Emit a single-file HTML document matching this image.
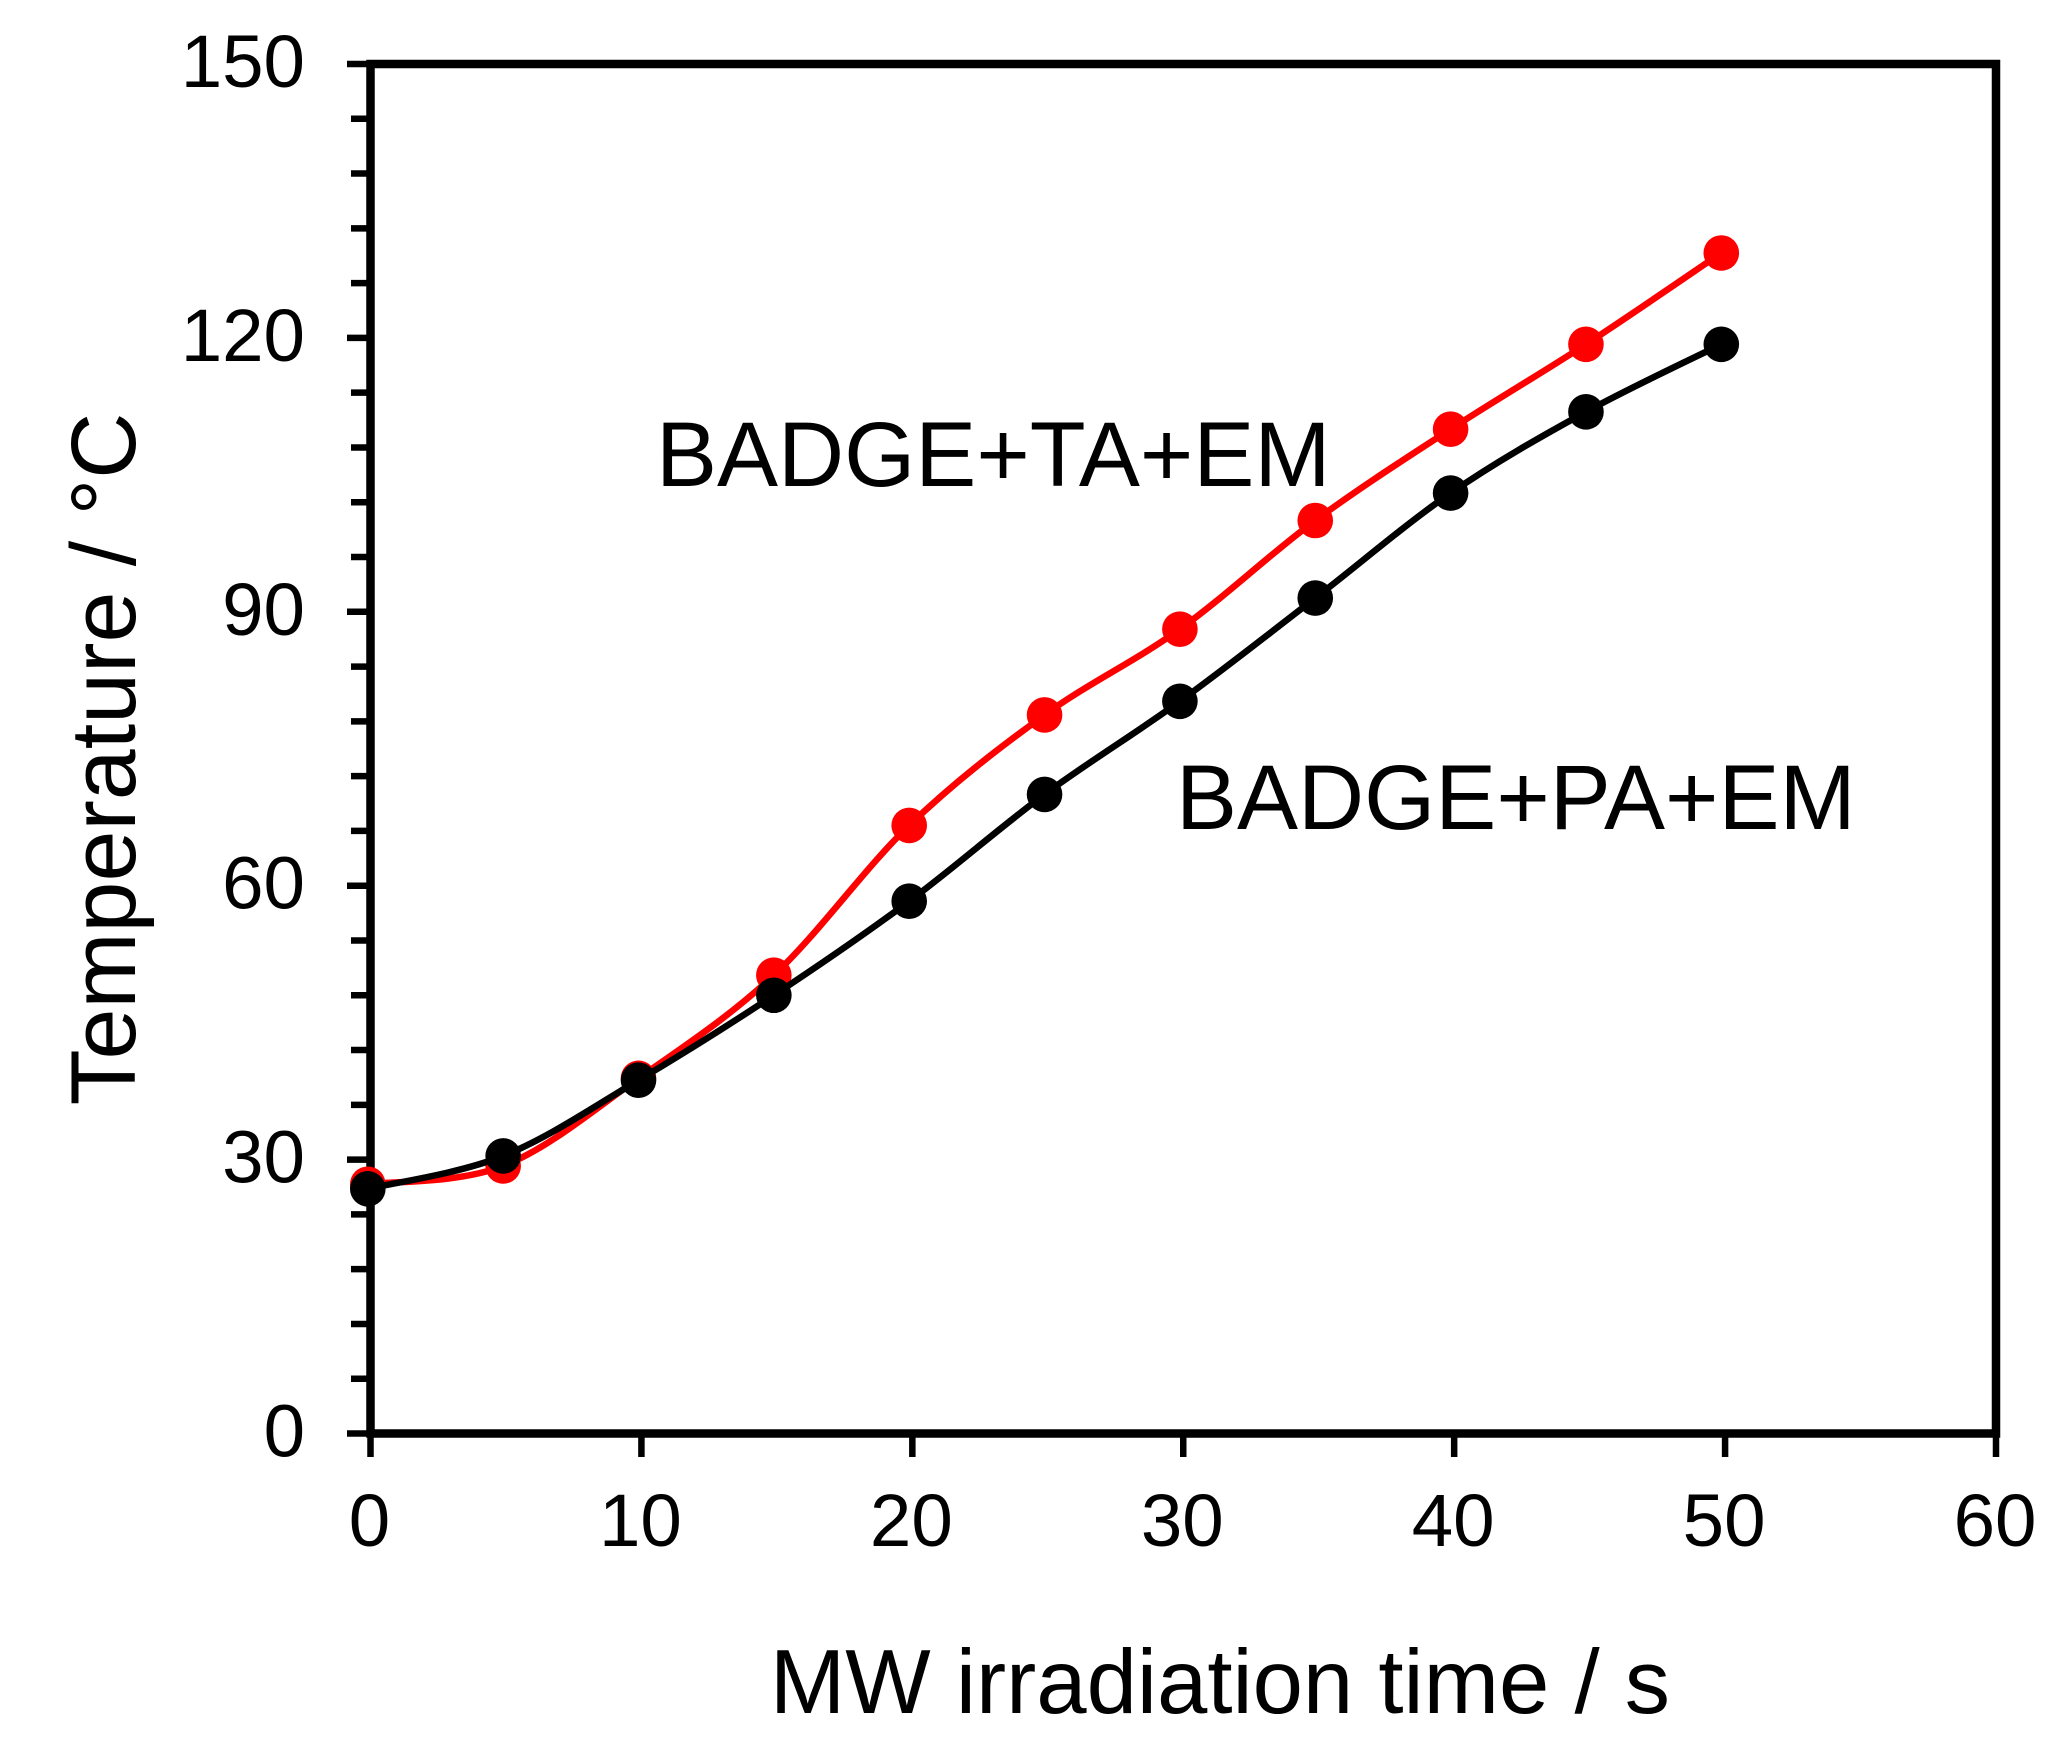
<!DOCTYPE html>
<html>
<head>
<meta charset="utf-8">
<title>Temperature vs MW irradiation time</title>
<style>
html,body{margin:0;padding:0;background:#fff;}
svg{display:block;}
text{font-family:"Liberation Sans",Arial,sans-serif;fill:#000;}
</style>
</head>
<body>
<svg id="chart" xmlns="http://www.w3.org/2000/svg" width="2066" height="1759" viewBox="0 0 2066 1759">
  <rect x="0" y="0" width="2066" height="1759" fill="#fff"/>
  <g id="grid-ticks"></g>
  <rect x="370.5" y="64" width="1625.5" height="1369.5" fill="none" stroke="#000" stroke-width="8.5"/>
  <g id="tick-labels"></g>
  <g id="series"></g>
  <text x="1220" y="1713" font-size="90.5" text-anchor="middle">MW irradiation time / s</text>
  <text transform="translate(135 759) rotate(-90)" font-size="91.5" text-anchor="middle">Temperature / °C</text>
  <text x="656" y="486" font-size="91.5">BADGE+TA+EM</text>
  <text x="1176" y="829" font-size="91.5">BADGE+PA+EM</text>
</svg>
<script>
const timeValues = [0, 5, 10, 15, 20, 25, 30, 35, 40, 45, 50];
const taSeries = [27.3, 29.3, 38.9, 50.2, 66.6, 78.7, 88.1, 100, 110, 119.3, 129.3];
const paSeries = [26.8, 30.4, 38.7, 48, 58.3, 70, 80.2, 91.5, 103, 111.9, 119.3];
const xTickLabels = [0, 10, 20, 30, 40, 50, 60];
const yTickLabels = [0, 30, 60, 90, 120, 150];
const yMinorTicks = [6, 12, 18, 24, 36, 42, 48, 54, 66, 72, 78, 84, 96, 102, 108, 114, 126, 132, 138, 144];

const NS = 'http://www.w3.org/2000/svg';
function xAxis(v) { return 370.5 + v * (1625.5 / 60); }
function xData(v) { return 367.8 + v * 27.07; }
function yAxis(v) { return 1433.5 - v * (1369.5 / 150); }

function make(tag, attrs, parent) {
  const el = document.createElementNS(NS, tag);
  for (const k in attrs) el.setAttribute(k, attrs[k]);
  parent.appendChild(el);
  return el;
}

const tickGroup = document.getElementById('grid-ticks');
const labelGroup = document.getElementById('tick-labels');
const seriesGroup = document.getElementById('series');

xTickLabels.forEach(function (v) {
  const x = xAxis(v);
  const t = make('line', { x1: x, x2: x, y1: 1433, y2: 1457, stroke: '#000', 'stroke-width': 6.5 }, tickGroup);
  
  
  const l = make('text', { x: x - 1, y: 1546, 'font-size': 74.5, 'text-anchor': 'middle' }, labelGroup);
  l.textContent = String(v);
  
  
});

yTickLabels.forEach(function (v) {
  const y = yAxis(v);
  const t = make('line', { x1: 347, x2: 371, y1: y, y2: y, stroke: '#000', 'stroke-width': 6.5 }, tickGroup);
  
  
  const l = make('text', { x: 305, y: y + 23, 'font-size': 74.5, 'text-anchor': 'end' }, labelGroup);
  l.textContent = String(v);
  
  
});

yMinorTicks.forEach(function (v) {
  const y = yAxis(v);
  const t = make('line', { x1: 351, x2: 371, y1: y, y2: y, stroke: '#000', 'stroke-width': 6.5 }, tickGroup);
  
  
});

function smoothPath(xs, ys) {
  const pts = xs.map(function (v, i) { return [xData(v), yAxis(ys[i])]; });
  let d = 'M' + pts[0][0] + ' ' + pts[0][1];
  for (let i = 0; i < pts.length - 1; i++) {
    const p0 = pts[Math.max(i - 1, 0)];
    const p1 = pts[i];
    const p2 = pts[i + 1];
    const p3 = pts[Math.min(i + 2, pts.length - 1)];
    const c1x = p1[0] + (p2[0] - p0[0]) / 6;
    const c1y = p1[1] + (p2[1] - p0[1]) / 6;
    const c2x = p2[0] - (p3[0] - p1[0]) / 6;
    const c2y = p2[1] - (p3[1] - p1[1]) / 6;
    d += 'C' + c1x + ' ' + c1y + ' ' + c2x + ' ' + c2y + ' ' + p2[0] + ' ' + p2[1];
  }
  return d;
}

function drawSeries(values, color, lineName, pointName) {
  const line = make('path', { d: smoothPath(timeValues, values), fill: 'none', stroke: color, 'stroke-width': 6.5 }, seriesGroup);
  
  
  values.forEach(function (v, i) {
    const c = make('circle', { cx: xData(timeValues[i]), cy: yAxis(v), r: 17.8, fill: color }, seriesGroup);
    
    
  });
}

drawSeries(taSeries, '#ff0000', 'badge-ta-em-line', 'badge-ta-em-point');
drawSeries(paSeries, '#000000', 'badge-pa-em-line', 'badge-pa-em-point');
</script>
</body>
</html>
